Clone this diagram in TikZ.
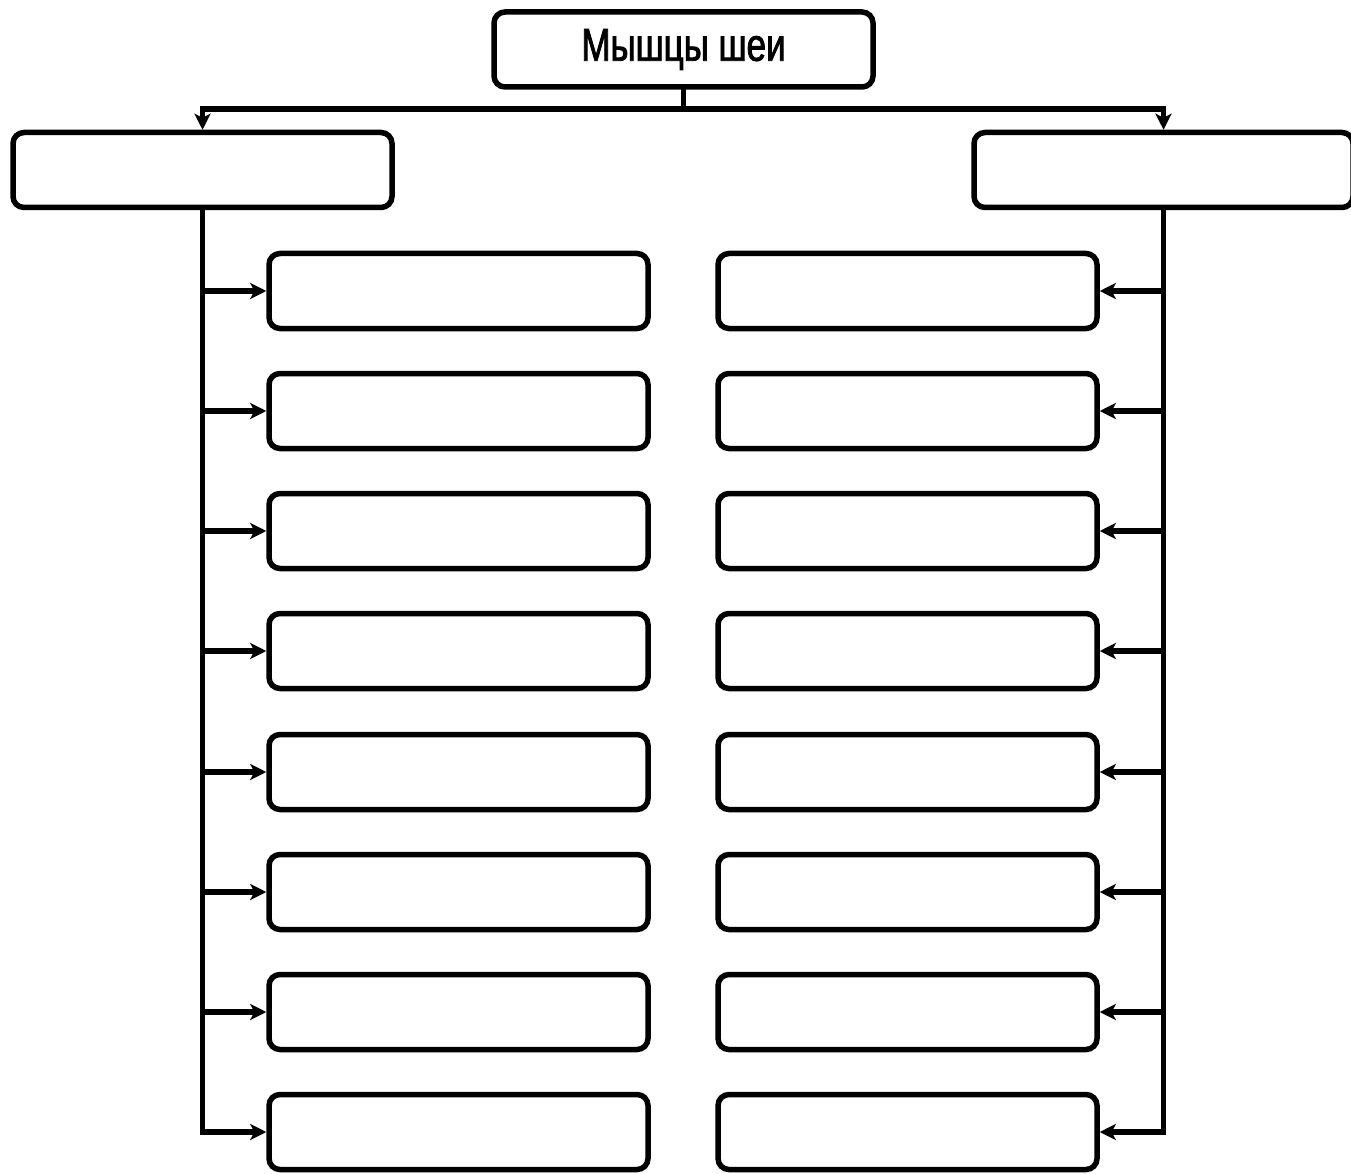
\documentclass[tikz,border=0pt]{standalone}
\usepackage{fontspec}
\newfontfamily\narrowfont[FakeStretch=0.76,FakeBold=1.8]{Liberation Sans}
\usetikzlibrary{arrows.meta}
\begin{document}
\begin{tikzpicture}[x=1pt,y=-1pt,
  box/.style={draw=black,line width=5.5pt,rounded corners=11pt,minimum width=379pt,minimum height=75pt,inner sep=0pt,fill=white},
  conn/.style={line width=5.5pt,draw=black,line cap=rect},
  arr/.style={conn,-{Stealth[length=16pt,width=16pt,inset=4pt]}}]
\useasboundingbox[fill=white] (0,0) rectangle (1351,1174);
\node[box] (top) at (683.5,49.5) {\raisebox{-4pt}{\narrowfont\fontsize{46}{50}\selectfont Мышцы шеи}};
\node[box] (L) at (202.5,170) {};
\node[box] (R) at (1163.5,170) {};
\coordinate (hub) at (683.5,109);
\draw[conn] (top.south) -- (hub);
\draw[arr] (hub) -| (L.north);
\draw[arr] (hub) -| (R.north);
\foreach \i/\y in {1/291,2/411,3/531,4/651,5/772,6/892,7/1012,8/1132}{
  \node[box] (l\i) at (458.5,\y) {};
  \node[box] (r\i) at (907.5,\y) {};
}
\draw[arr] (L.south) |- (l8.west);
\draw[arr] (R.south) |- (r8.east);
\foreach \i in {1,...,7}{
  \draw[arr] (L.south |- l\i.west) -- (l\i.west);
  \draw[arr] (R.south |- r\i.east) -- (r\i.east);
}
\end{tikzpicture}
\end{document}
